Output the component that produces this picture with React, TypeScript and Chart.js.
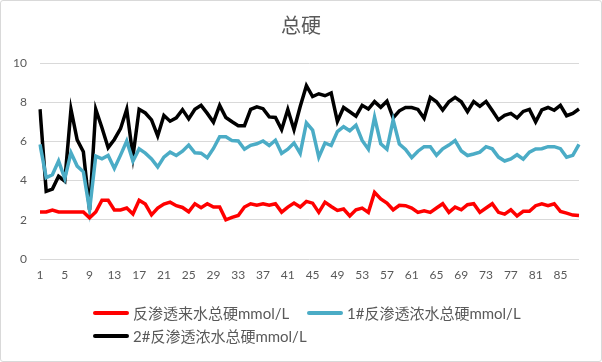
import React, { useEffect, useRef } from "react";
import { Chart, registerables } from "chart.js";

Chart.register(...registerables);

const categories: string[] = Array.from({ length: 88 }, (_, i) => String(i + 1));

const feedHardness: number[] = [
  2.4, 2.4, 2.5, 2.4, 2.4, 2.4, 2.4, 2.4, 2.1, 2.4,
  3.0, 3.0, 2.5, 2.5, 2.6, 2.3, 3.0, 2.8, 2.25, 2.6,
  2.8, 2.9, 2.72, 2.63, 2.41, 2.82, 2.62, 2.82, 2.65, 2.65,
  2.0, 2.12, 2.22, 2.65, 2.82, 2.75, 2.82, 2.74, 2.82, 2.39,
  2.65, 2.85, 2.65, 2.94, 2.85, 2.38, 2.9, 2.68, 2.48, 2.55,
  2.2, 2.51, 2.6, 2.38, 3.4, 3.06, 2.85, 2.51, 2.74, 2.72,
  2.6, 2.38, 2.46, 2.38, 2.6, 2.82, 2.38, 2.65, 2.51, 2.77,
  2.82, 2.38, 2.6, 2.82, 2.38, 2.29, 2.51, 2.2, 2.43, 2.43,
  2.72, 2.82, 2.72, 2.82, 2.43, 2.34, 2.24, 2.22,
];

const conc1Hardness: number[] = [
  5.85, 4.15, 4.3, 5.0, 4.1, 5.42, 4.74, 4.45, 2.5, 5.25,
  5.11, 5.28, 4.62, 5.3, 6.02, 5.0, 5.62, 5.4, 5.11, 4.7,
  5.2, 5.45, 5.28, 5.5, 5.81, 5.42, 5.4, 5.17, 5.64, 6.24,
  6.24, 6.04, 6.02, 5.6, 5.8, 5.88, 6.02, 5.79, 6.06, 5.39,
  5.6, 5.92, 5.39, 6.95, 6.58, 5.2, 5.92, 5.79, 6.5, 6.75,
  6.54, 6.83, 6.05, 5.6, 7.24, 5.88, 5.6, 7.1, 5.87, 5.59,
  5.17, 5.5, 5.73, 5.73, 5.29, 5.62, 5.81, 6.04, 5.51, 5.28,
  5.36, 5.45, 5.73, 5.62, 5.2, 5.0, 5.11, 5.32, 5.09, 5.45,
  5.61, 5.63, 5.73, 5.73, 5.63, 5.19, 5.29, 5.85,
];

const conc2Hardness: number[] = [
  7.64, 3.45, 3.57, 4.22, 3.97, 7.64, 6.08, 5.47, 2.51, 7.64,
  6.7, 5.68, 6.1, 6.65, 7.64, 5.23, 7.64, 7.45, 7.1, 6.28,
  7.32, 7.03, 7.2, 7.62, 7.15, 7.64, 7.84, 7.43, 6.98, 7.84,
  7.22, 7.0, 6.8, 6.8, 7.63, 7.76, 7.67, 7.25, 7.22, 6.6,
  7.63, 6.6, 7.78, 8.84, 8.29, 8.43, 8.33, 8.47, 7.02, 7.73,
  7.51, 7.29, 7.84, 7.65, 8.03, 7.74, 8.05, 7.2, 7.56, 7.73,
  7.73, 7.63, 7.18, 8.25, 8.02, 7.6, 8.02, 8.25, 8.02, 7.52,
  8.03, 7.79, 8.04, 7.58, 7.1, 7.33, 7.43, 7.2, 7.53, 7.63,
  7.0, 7.61, 7.73, 7.59, 7.84, 7.31, 7.43, 7.65,
];

const seriesNames: string[] = [
  "反渗透来水总硬mmol/L",
  "1#反渗透浓水总硬mmol/L",
  "2#反渗透浓水总硬mmol/L",
];
const seriesColors: string[] = ["#FF0000", "#4BACC6", "#000000"];
const titleText = "总硬";

const FONT = "Lato, 'Noto Sans CJK SC', sans-serif";
const TEXT_COLOR = "#595959";

export default function App() {
  const canvasRef = useRef<HTMLCanvasElement | null>(null);

  useEffect(() => {
    if (!canvasRef.current) return;
    const chart = new Chart(canvasRef.current, {
      type: "line",
      data: {
        labels: categories,
        datasets: [feedHardness, conc1Hardness, conc2Hardness].map((d, i) => ({
          label: seriesNames[i],
          data: d,
          borderColor: seriesColors[i],
          backgroundColor: seriesColors[i],
          borderWidth: 3.5,
          pointRadius: 0,
          tension: 0,
          fill: false,
        })),
      },
      options: {
        responsive: false,
        animation: false,
        layout: { padding: { top: 63, right: 23, bottom: 73, left: 0 } },
        plugins: {
          legend: { display: false },
          title: { display: false },
          tooltip: { enabled: false },
        },
        scales: {
          x: {
            offset: false,
            grid: { display: false, drawTicks: false },
            border: { display: false },
            ticks: {
              autoSkip: false,
              maxRotation: 0,
              minRotation: 0,
              padding: 9,
              color: TEXT_COLOR,
              font: { family: FONT, size: 12 },
              callback: (_v: any, idx: number) => (idx % 4 === 0 ? categories[idx] : ""),
            },
            afterFit: (scale: any) => {
              scale.height = 30;
            },
          },
          y: {
            min: 0,
            max: 10,
            grid: { color: "#d9d9d9", lineWidth: 1, drawTicks: false },
            border: { display: false },
            ticks: {
              stepSize: 2,
              padding: 13,
              color: TEXT_COLOR,
              font: { family: FONT, size: 12 },
            },
            afterFit: (scale: any) => {
              scale.width = 40;
            },
          },
        },
      },
    });
    return () => chart.destroy();
  }, []);

  const legendItems = [
    { idx: 0, x: 93, y: 313 },
    { idx: 1, x: 307, y: 313 },
    { idx: 2, x: 93, y: 336 },
  ];

  return (
    <div
      style={{
        position: "fixed",
        left: 0,
        top: 0,
        width: 602,
        height: 362,
        background: "#ffffff",
        overflow: "hidden",
      }}
    >
      <canvas
        ref={canvasRef}
        width={602}
        height={362}
        style={{ position: "absolute", left: 0, top: 0, width: 602, height: 362 }}
      />
      <div
        style={{
          position: "absolute",
          left: 0,
          width: 602,
          top: 12,
          height: 26,
          lineHeight: "26px",
          textAlign: "center",
          fontFamily: FONT,
          fontSize: 20,
          color: TEXT_COLOR,
        }}
      >
        {titleText}
      </div>
      {legendItems.map((it) => (
        <div key={it.idx}>
          <div
            style={{
              position: "absolute",
              left: it.x,
              top: it.y - 2,
              width: 36,
              height: 4,
              borderRadius: 2,
              background: seriesColors[it.idx],
            }}
          />
          <div
            style={{
              position: "absolute",
              left: it.x + 40,
              top: it.y - 10,
              height: 20,
              lineHeight: "20px",
              whiteSpace: "nowrap",
              fontFamily: FONT,
              fontSize: 15,
              color: TEXT_COLOR,
            }}
          >
            {seriesNames[it.idx]}
          </div>
        </div>
      ))}
      <div
        style={{
          position: "absolute",
          left: 0,
          top: 0,
          width: 602,
          height: 362,
          boxSizing: "border-box",
          border: "1px solid #d9d9d9",
          borderRadius: 3,
          pointerEvents: "none",
        }}
      />
    </div>
  );
}
